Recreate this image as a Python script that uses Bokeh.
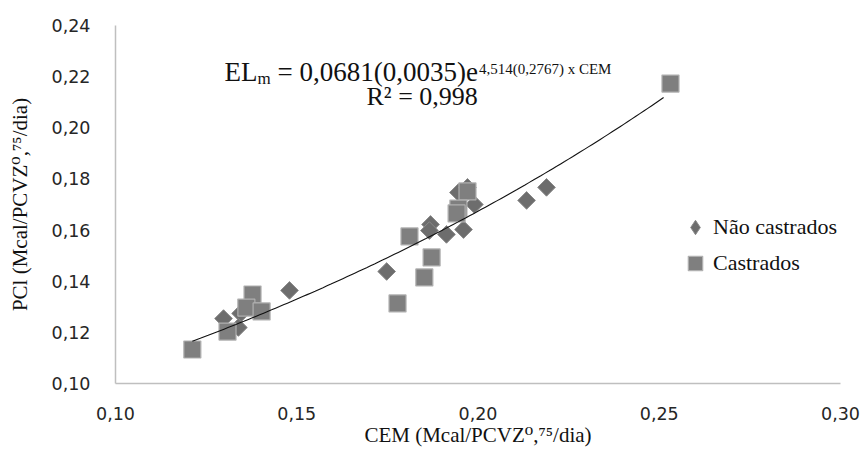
import numpy as np
from bokeh.plotting import figure
from bokeh.models import ColumnDataSource, Label, Legend, LegendItem, FixedTicker
from bokeh.embed import file_html
from bokeh.resources import INLINE

# ---- data ----
nao_castrados_cem = [0.1298, 0.1345, 0.1339, 0.1480, 0.1748, 0.1869, 0.1866, 0.1913,
                     0.1960, 0.1990, 0.1946, 0.1971, 0.2134, 0.2189]
nao_castrados_pcl = [0.1254, 0.1274, 0.1219, 0.1364, 0.1438, 0.1622, 0.1598, 0.1583,
                     0.1602, 0.1700, 0.1747, 0.1767, 0.1716, 0.1767]

castrados_cem = [0.1212, 0.1378, 0.1361, 0.1403, 0.1309, 0.1971, 0.1946, 0.1941,
                 0.1811, 0.1872, 0.1852, 0.1778, 0.2531]
castrados_pcl = [0.1133, 0.1348, 0.1297, 0.1282, 0.1203, 0.1751, 0.1684, 0.1665,
                 0.1575, 0.1493, 0.1415, 0.1313, 0.2173]

x_ticks = [0.10, 0.15, 0.20, 0.25, 0.30]
x_tick_labels = ["0,10", "0,15", "0,20", "0,25", "0,30"]
y_ticks = [0.10, 0.12, 0.14, 0.16, 0.18, 0.20, 0.22, 0.24]
y_tick_labels = ["0,10", "0,12", "0,14", "0,16", "0,18", "0,20", "0,22", "0,24"]

# exponential trend line as drawn in the picture: y = a * exp(b * x)
trend_a = 0.0667
trend_b = 4.6
trend_x_start = 0.1212
trend_x_end = 0.2512

series_names = ["Não castrados", "Castrados"]
x_title = "CEM (Mcal/PCVZ⁰,⁷⁵/dia)"
y_title = "PCl (Mcal/PCVZ⁰,⁷⁵/dia)"
eq_parts = ["EL", "m", "= 0,0681(0,0035)e", "4,514(0,2767) x CEM"]
r2_text = "R² = 0,998"

# ---- figure ----
SERIF = "Liberation Serif"
SERIF_TITLE = "Liberation Serif, DejaVu Serif"
SANS = "DejaVu Sans"
INK = "#111111"

p = figure(width=866, height=452, x_range=(0.10, 0.30), y_range=(0.10, 0.24),
           output_backend="svg", toolbar_location=None,
           min_border_left=115, min_border_right=26, min_border_top=25, min_border_bottom=69)
p.outline_line_color = None
p.grid.grid_line_color = None
p.background_fill_color = "white"
p.border_fill_color = "white"

for ax, ticks, labels in ((p.xaxis[0], x_ticks, x_tick_labels), (p.yaxis[0], y_ticks, y_tick_labels)):
    ax.ticker = FixedTicker(ticks=ticks)
    ax.major_label_overrides = {t: l for t, l in zip(ticks, labels)}
    ax.major_tick_line_color = None
    ax.minor_tick_line_color = None
    ax.major_tick_out = 0
    ax.major_tick_in = 0
    ax.minor_tick_out = 0
    ax.axis_line_color = "#bfbfbf"
    ax.axis_line_width = 1.5
    ax.major_label_text_font = SANS
    ax.major_label_text_font_size = "17.5px"
    ax.major_label_text_color = "#262626"
    ax.axis_label_text_font = SERIF_TITLE
    ax.axis_label_text_font_size = "21px"
    ax.axis_label_text_font_style = "normal"
    ax.axis_label_text_color = INK

p.xaxis.axis_label = x_title
p.yaxis.axis_label = y_title
p.xaxis.major_label_standoff = 23
p.xaxis.axis_label_standoff = 0
p.yaxis.major_label_standoff = 25
p.yaxis.axis_label_standoff = 17

src_nc = ColumnDataSource(dict(x=nao_castrados_cem, y=nao_castrados_pcl))
src_c = ColumnDataSource(dict(x=castrados_cem, y=castrados_pcl))

NC_FILL, NC_LINE = "#6d6d6d", "#8a8a8a"
C_FILL, C_LINE = "#7f7f7f", "#b0b0b0"

r_nc = p.scatter("x", "y", source=src_nc, marker="square", angle=np.pi / 4, size=12.5,
                 fill_color=NC_FILL, line_color=NC_LINE, line_width=1)
r_c = p.scatter("x", "y", source=src_c, marker="square", size=17,
                fill_color=C_FILL, line_color=C_LINE, line_width=1.2)

tx = np.linspace(trend_x_start, trend_x_end, 120)
ty = trend_a * np.exp(trend_b * tx)
p.line(tx, ty, line_color="#111111", line_width=1.1)

# legend-only key glyph with a diamond shape (a single undefined point, never drawn)
r_nc_key = p.scatter(x=[np.nan], y=[np.nan], marker="diamond", fill_color=NC_FILL,
                     line_color=NC_LINE, line_width=1)

BASE_FIX = 0.33   # Bokeh places the "alphabetic" anchor about a third of an em too low


def add_text(txt, x, y, dx, dy, size, align="left"):
    p.add_layout(Label(x=x, y=y, x_offset=dx, y_offset=dy + BASE_FIX * size, text=txt,
                       text_font=SERIF, text_font_size=f"{size}px", text_color=INK,
                       text_baseline="alphabetic", text_align=align))


# ---- equation (composed text pieces, Times metrics) ----
F_EQ, F_SUB, F_SUP = 27, 17, 15
eq_x, eq_y = 0.13007, 0.2185          # anchor of "EL" (left, baseline)
w_el = 1.222 * F_EQ
w_m = 0.778 * F_SUB
w_sp = 0.25 * F_EQ
w_mid = 7.424 * F_EQ
add_text(eq_parts[0], eq_x, eq_y, 0, 0, F_EQ)
add_text(eq_parts[1], eq_x, eq_y, w_el, -4, F_SUB)
add_text(eq_parts[2], eq_x, eq_y, w_el + w_m + w_sp, 0, F_EQ)
add_text(eq_parts[3], eq_x, eq_y, w_el + w_m + w_sp + w_mid + 1, 7, F_SUP)
add_text(r2_text, 0.1846, eq_y, 0, -25, 26, align="center")

# ---- legend ----
legend = Legend(items=[LegendItem(label=series_names[0], renderers=[r_nc_key]),
                       LegendItem(label=series_names[1], renderers=[r_c])],
                location=(562, 102), orientation="vertical",
                glyph_width=36, glyph_height=36, spacing=0, padding=0, margin=0,
                label_standoff=0, border_line_color=None, background_fill_alpha=0,
                label_text_font=SERIF, label_text_font_size="22px",
                label_text_color=INK)
p.add_layout(legend)

open("out.html", "w").write(file_html(p, INLINE))
